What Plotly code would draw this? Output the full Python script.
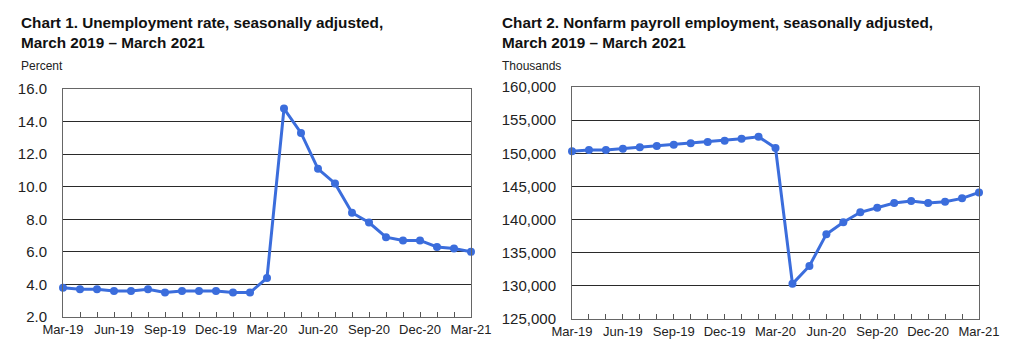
import plotly.graph_objects as go

months = ["Mar-19", "Apr-19", "May-19", "Jun-19", "Jul-19", "Aug-19", "Sep-19", "Oct-19",
          "Nov-19", "Dec-19", "Jan-20", "Feb-20", "Mar-20", "Apr-20", "May-20", "Jun-20",
          "Jul-20", "Aug-20", "Sep-20", "Oct-20", "Nov-20", "Dec-20", "Jan-21", "Feb-21", "Mar-21"]

unemployment_rate = [3.8, 3.7, 3.7, 3.6, 3.6, 3.7, 3.5, 3.6, 3.6, 3.6, 3.5, 3.5, 4.4,
                     14.8, 13.3, 11.1, 10.2, 8.4, 7.8, 6.9, 6.7, 6.7, 6.3, 6.2, 6.0]

payroll_thousands = [150300, 150500, 150500, 150700, 150900, 151100, 151300, 151500,
                     151700, 151900, 152200, 152500, 150800, 130300, 133000, 137800,
                     139600, 141100, 141800, 142500, 142800, 142500, 142700, 143200, 144100]

y1_ticks = [2, 4, 6, 8, 10, 12, 14, 16]
y2_ticks = [125000, 130000, 135000, 140000, 145000, 150000, 155000, 160000]

titles = ["<b>Chart 1. Unemployment rate, seasonally adjusted,<br>March 2019 – March 2021</b>",
          "<b>Chart 2. Nonfarm payroll employment, seasonally adjusted,<br>March 2019 – March 2021</b>"]
units = ["Percent", "Thousands"]

W, H = 1024, 362
FONT = "Liberation Sans, Arial, sans-serif"
BLUE = "#3b6ddc"

idx = list(range(len(months)))
tick_idx = idx[::3]
tick_text = months[::3]

fig = go.Figure()
fig.add_trace(go.Scatter(x=idx, y=unemployment_rate, mode="lines+markers",
                         line=dict(color=BLUE, width=3), marker=dict(color=BLUE, size=8),
                         xaxis="x", yaxis="y", cliponaxis=False, showlegend=False))
fig.add_trace(go.Scatter(x=idx, y=payroll_thousands, mode="lines+markers",
                         line=dict(color=BLUE, width=3), marker=dict(color=BLUE, size=8),
                         xaxis="x2", yaxis="y2", cliponaxis=False, showlegend=False))

def px_x(a, b):
    return [a / W, b / W]

def px_y(top, bottom):
    return [1 - bottom / H, 1 - top / H]

xcommon = dict(range=[0, len(months) - 1], tickmode="array", tickvals=tick_idx, ticktext=tick_text,
               ticks="inside", ticklen=5, tickcolor="#555", showgrid=False, zeroline=False,
               showline=True, linecolor="#666", linewidth=1, mirror=True, automargin=False,
               tickfont=dict(family=FONT, size=13, color="#222"),
               minor=dict(dtick=1, tick0=0, ticks="inside", ticklen=5, tickcolor="#555", showgrid=False))
ycommon = dict(tickmode="array", ticks="", showgrid=True, gridcolor="#2a2a2a", gridwidth=1,
               zeroline=False, showline=True, linecolor="#666", linewidth=1, mirror=True,
               automargin=False,
               tickfont=dict(family=FONT, size=15, color="#222"), ticklabelstandoff=12)

fig.update_layout(
    width=W, height=H, margin=dict(l=0, r=0, t=0, b=0, pad=0, autoexpand=False),
    paper_bgcolor="white", plot_bgcolor="white",
    xaxis=dict(domain=px_x(63, 471), anchor="y", **xcommon),
    yaxis=dict(domain=px_y(89, 317), anchor="x", range=[2, 16], tickvals=y1_ticks,
               tickformat=".1f", **ycommon),
    xaxis2=dict(domain=px_x(572, 979), anchor="y2", **xcommon),
    yaxis2=dict(domain=px_y(87, 319), anchor="x2", range=[125000, 160000], tickvals=y2_ticks,
                tickformat=",", **ycommon),
)

for i, (t, u, x0) in enumerate(zip(titles, units, [19, 500])):
    fig.add_annotation(text=t, xref="paper", yref="paper", x=x0 / W, y=1 - 12 / H,
                       xanchor="left", yanchor="top", align="left", showarrow=False,
                       font=dict(family=FONT, size=15.3, color="#111"))
    fig.add_annotation(text=u, xref="paper", yref="paper", x=x0 / W, y=1 - 66 / H,
                       xanchor="left", yanchor="middle", align="left", showarrow=False,
                       font=dict(family=FONT, size=12, color="#222"))

fig.write_html("out.html", config={"displayModeBar": False},
               post_script="document.body.style.margin='0px';document.body.style.overflow='hidden';")
